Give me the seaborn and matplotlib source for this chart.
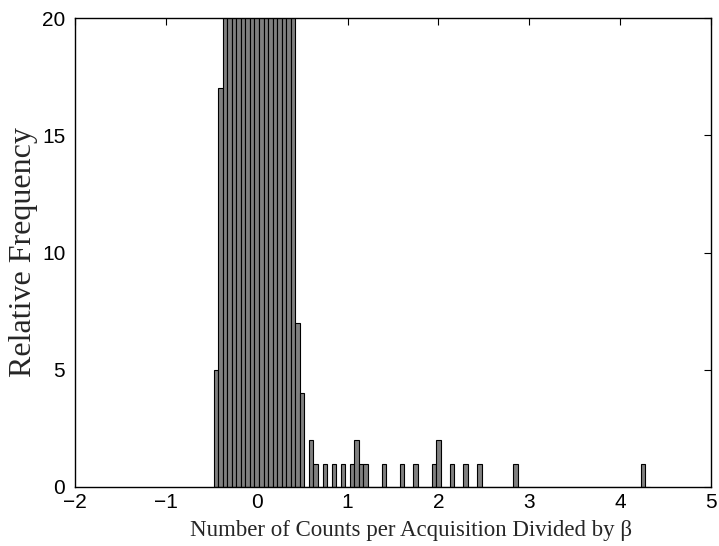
import numpy as np
import matplotlib
matplotlib.use("Agg")
import matplotlib.pyplot as plt
import seaborn as sns

# Histogram bin centres (units of beta) and the counts in each bin
bin_centers = [-0.45, -0.40, -0.35, -0.30, -0.25, -0.20, -0.15, -0.10, -0.05, 0.00,
               0.05, 0.10, 0.15, 0.20, 0.25, 0.30, 0.35, 0.40, 0.45, 0.50,
               0.60, 0.65, 0.75, 0.85, 0.95, 1.05, 1.10, 1.15, 1.20, 1.40,
               1.60, 1.75, 1.95, 2.00, 2.15, 2.30, 2.45, 2.85, 4.25]
counts = [5, 17, 30, 45, 62, 80, 95, 108, 115, 118,
          116, 110, 98, 85, 68, 52, 38, 26, 7, 4,
          2, 1, 1, 1, 1, 1, 2, 1, 1, 1,
          1, 1, 1, 2, 1, 1, 1, 1, 1]

x_ticks = [-2, -1, 0, 1, 2, 3, 4, 5]
y_ticks = [0, 5, 10, 15, 20]

sns.set_theme(style="white")
plt.rcParams["font.family"] = ["Liberation Sans", "DejaVu Sans"]

fig = plt.figure(figsize=(7.19, 5.46), dpi=100)
ax = fig.add_axes([75 / 719, 1 - 487 / 546, (711 - 75) / 719, (487 - 18) / 546])

sns.histplot(x=bin_centers, weights=counts, binwidth=0.05, binrange=(-0.475, 4.325),
             color="#808080", edgecolor="black", linewidth=0.8, alpha=1.0, ax=ax)

ax.set_xlim(-2, 5)
ax.set_ylim(0, 20)
ax.set_xticks(x_ticks)
ax.set_yticks(y_ticks)
ax.tick_params(direction="in", top=True, right=True, length=5, width=0.8,
               labelsize=15, colors="black", pad=4)
ax.tick_params(axis="y", pad=7)
for sp in ax.spines.values():
    sp.set_visible(True)
    sp.set_color("black")
    sp.set_linewidth(1.0)

serif = ["Liberation Serif", "DejaVu Serif"]
ax.set_xlabel("Number of Counts per Acquisition Divided by β", family=serif,
              fontsize=16.5, labelpad=6)
ax.xaxis.label.set_x(0.528)
ax.set_ylabel("Relative Frequency", family=serif, fontsize=23, labelpad=3)

fig.savefig("out.png", dpi=100, facecolor="white")
